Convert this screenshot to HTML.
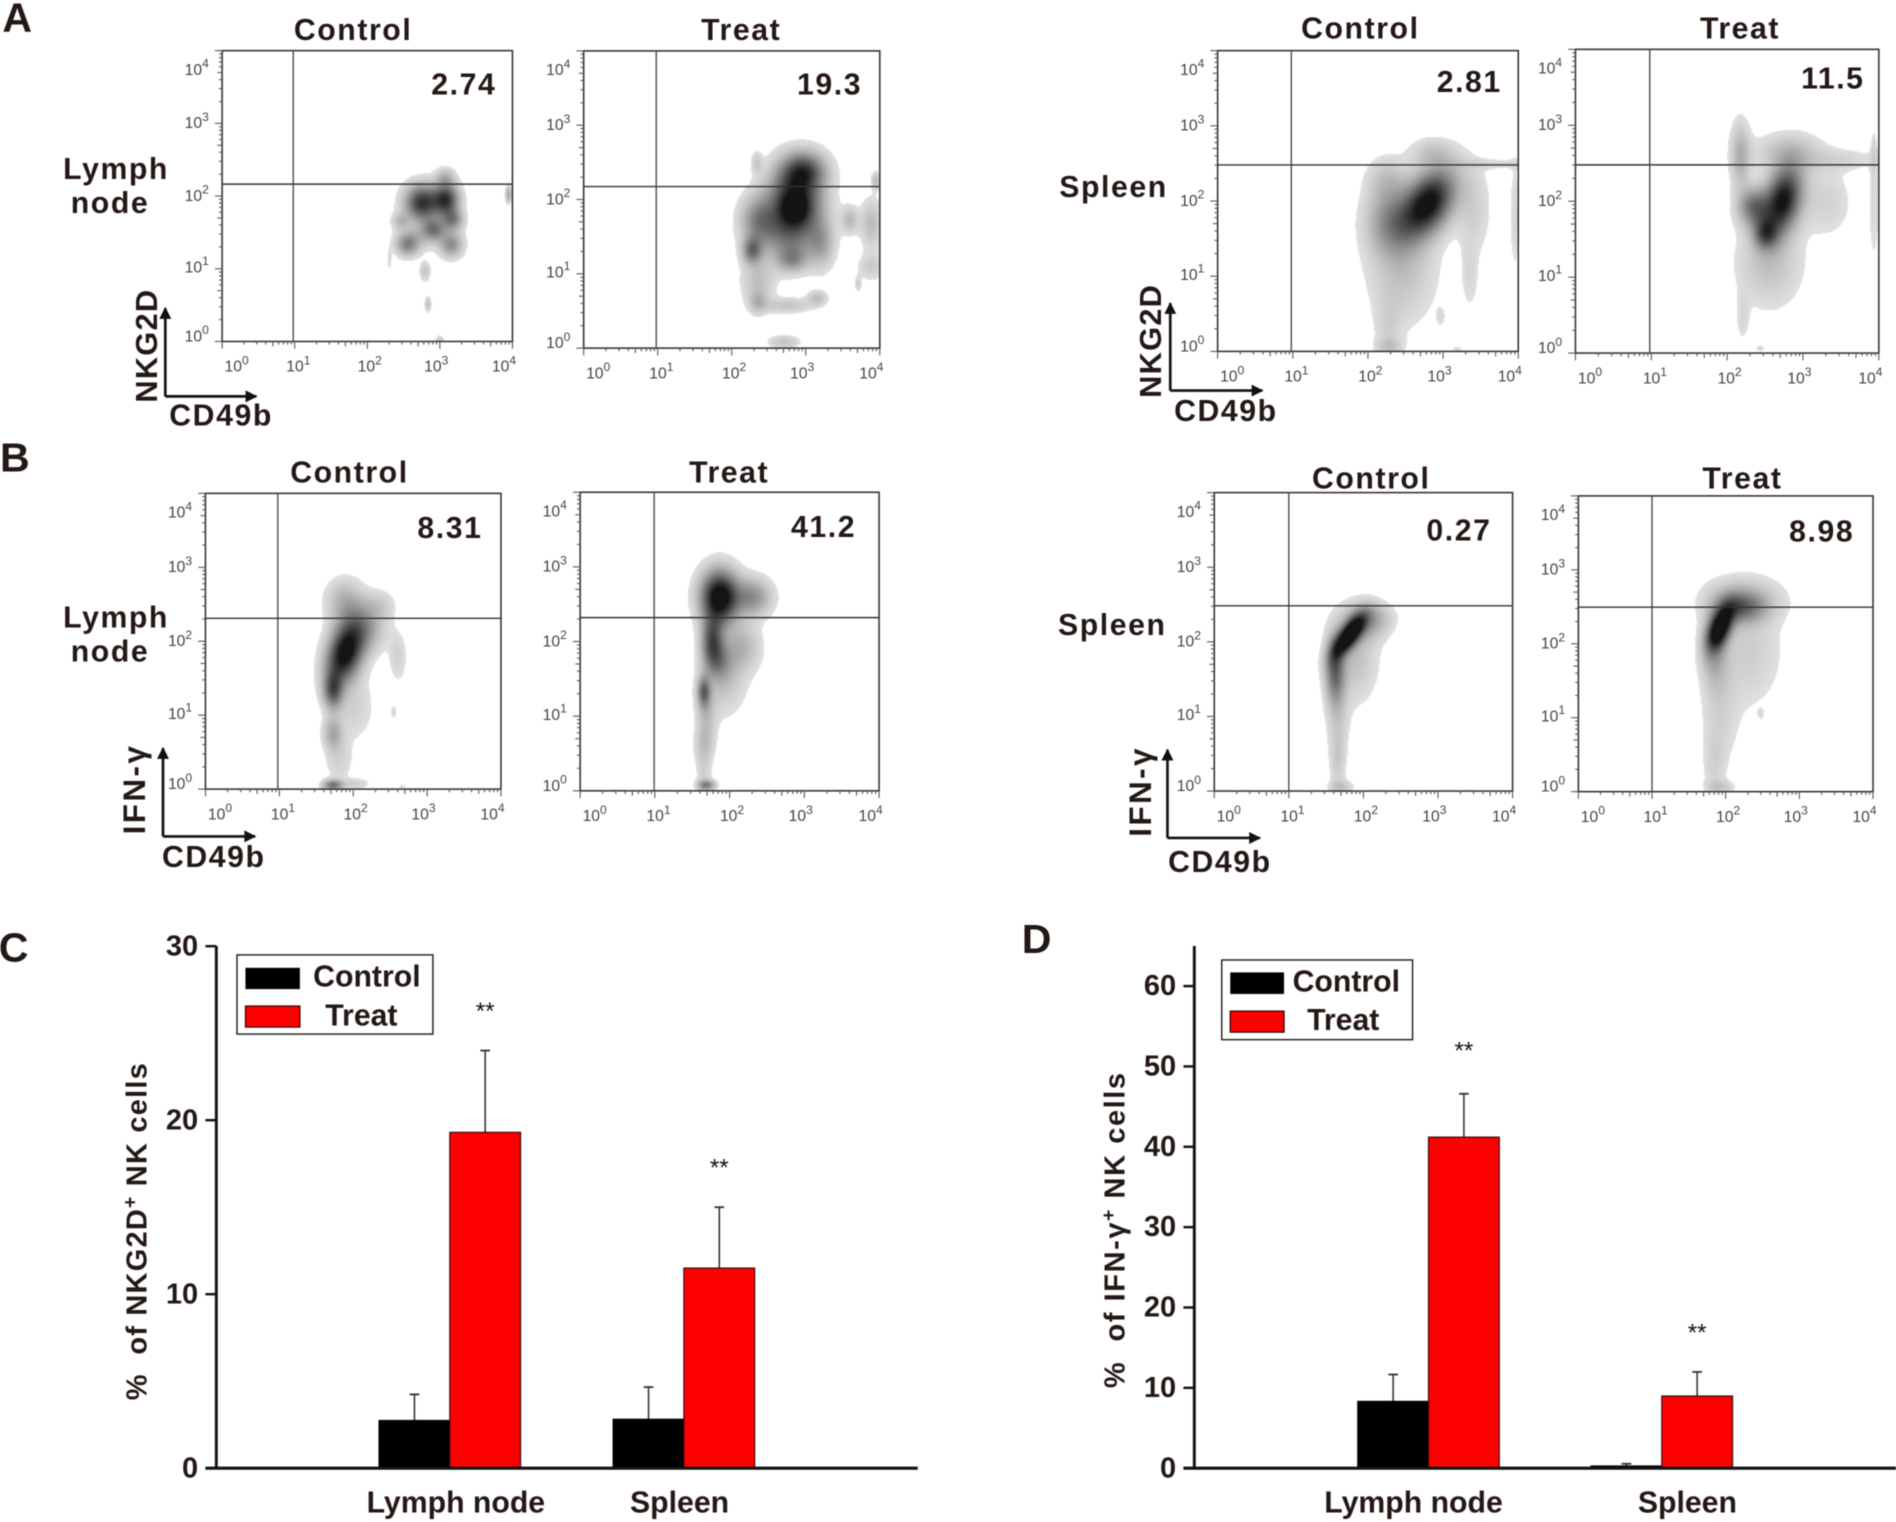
<!DOCTYPE html>
<html lang="en">
<head>
<meta charset="utf-8">
<title>NKG2D and IFN-γ expression in NK cells</title>
<style>
html,body{margin:0;padding:0;background:#fff;width:1896px;height:1522px;overflow:hidden}
#figure{position:relative;width:1896px;height:1522px;filter:blur(0.55px)}
#density-layer{position:absolute;left:0;top:0}
#overlay{position:absolute;left:0;top:0}
text{font-family:"Liberation Sans",sans-serif;fill:#231815}
.b{font-weight:700}
.t25{font-size:25px;font-weight:700;letter-spacing:1.3px}
.letter{font-size:34px;font-weight:700}
.rot{font-size:26px;font-weight:700;letter-spacing:1px}
.ytitle{font-size:24px;font-weight:700;letter-spacing:1px}
.star{font-size:20px;font-weight:400;fill:#111}
</style>
</head>
<body>
<div id="figure">
<canvas id="density-layer" width="1896" height="1522"></canvas>
<svg id="overlay" width="1896" height="1522" viewBox="0 0 1568 1258.7" xmlns="http://www.w3.org/2000/svg">
  <defs>
    <marker id="ah" viewBox="0 0 10 10" refX="9" refY="5" markerWidth="5.5" markerHeight="4.5" orient="auto-start-reverse"><path d="M0 0 L10 5 L0 10 Z" fill="#111"/></marker>
  </defs>

  <text class="letter" x="2" y="26">A</text>
  <text class="letter" x="0" y="390">B</text>
  <text class="letter" x="-1" y="795">C</text>
  <text class="letter" x="845" y="788">D</text>

  <text class="t25" x="96" y="148" text-anchor="middle">Lymph</text>
  <text class="t25" x="91" y="176" text-anchor="middle">node</text>
  <text class="t25" x="876" y="163">Spleen</text>
  <text class="t25" x="96" y="519" text-anchor="middle">Lymph</text>
  <text class="t25" x="91" y="547" text-anchor="middle">node</text>
  <text class="t25" x="875" y="525">Spleen</text>

  <g>
    <line x1="136.7" y1="327.8" x2="136.7" y2="254.8" stroke="#111" stroke-width="2.2" marker-end="url(#ah)"/>
    <line x1="136.7" y1="327.8" x2="212" y2="327.8" stroke="#111" stroke-width="2.2" marker-end="url(#ah)"/>
    <text class="rot" transform="translate(130,333) rotate(-90)" style="font-size:25.5px">NKG2D</text>
    <text class="t25" x="140" y="352">CD49b</text>
  </g>
  <g>
    <line x1="967.8" y1="323" x2="967.8" y2="250.7" stroke="#111" stroke-width="2.2" marker-end="url(#ah)"/>
    <line x1="967.8" y1="323" x2="1044" y2="323" stroke="#111" stroke-width="2.2" marker-end="url(#ah)"/>
    <text class="rot" transform="translate(960,329) rotate(-90)" style="font-size:25.5px">NKG2D</text>
    <text class="t25" x="971" y="348">CD49b</text>
  </g>
  <g>
    <line x1="134.8" y1="691.7" x2="134.8" y2="618.7" stroke="#111" stroke-width="2.2" marker-end="url(#ah)"/>
    <line x1="134.8" y1="691.7" x2="211" y2="691.7" stroke="#111" stroke-width="2.2" marker-end="url(#ah)"/>
    <text class="rot" transform="translate(120,690) rotate(-90)" style="letter-spacing:2px">IFN-γ</text>
    <text class="t25" x="134" y="717">CD49b</text>
  </g>
  <g>
    <line x1="965.5" y1="693" x2="965.5" y2="620" stroke="#111" stroke-width="2.2" marker-end="url(#ah)"/>
    <line x1="965.5" y1="693" x2="1042" y2="693" stroke="#111" stroke-width="2.2" marker-end="url(#ah)"/>
    <text class="rot" transform="translate(952,692) rotate(-90)" style="letter-spacing:2px">IFN-γ</text>
    <text class="t25" x="966" y="721">CD49b</text>
  </g>

  <g id="flow-panels"></g>
  <g id="bar-c"></g>
  <g id="bar-d"></g>

  <text class="ytitle" xml:space="preserve" transform="translate(121,1158) rotate(-90)">%  of NKG2D<tspan dy="-8" font-size="16">+</tspan><tspan dy="8"> NK cells</tspan></text>
  <text class="ytitle" xml:space="preserve" transform="translate(930,1148) rotate(-90)" style="letter-spacing:1.3px">%  of IFN-γ<tspan dy="-8" font-size="16">+</tspan><tspan dy="8"> NK cells</tspan></text>

  <g>
    <rect x="196" y="789.7" width="162" height="65.5" fill="#fff" stroke="#222" stroke-width="1.2"/>
    <rect x="203" y="800.4" width="45" height="17.6" fill="#000"/>
    <text class="t25" x="259" y="816" style="letter-spacing:0">Control</text>
    <rect x="203" y="832" width="45" height="17.4" fill="#f00" stroke="#300" stroke-width="1"/>
    <text class="t25" x="269" y="848" style="letter-spacing:0">Treat</text>
  </g>
  <g>
    <rect x="1010.4" y="793.9" width="157.8" height="65.9" fill="#fff" stroke="#222" stroke-width="1.2"/>
    <rect x="1017.4" y="804.2" width="44.5" height="17.8" fill="#000"/>
    <text class="t25" x="1069" y="820" style="letter-spacing:0">Control</text>
    <rect x="1017.4" y="836.2" width="44.5" height="17.4" fill="#f00" stroke="#300" stroke-width="1"/>
    <text class="t25" x="1081" y="852" style="letter-spacing:0">Treat</text>
  </g>
</svg>
</div>

<script>
// ---------- Chart data ----------
const barCategories = ['Lymph node', 'Spleen'];
const nkg2dControl = [2.74, 2.81];
const nkg2dTreat = [19.3, 11.5];
const nkg2dControlErr = [1.5, 1.85];
const nkg2dTreatErr = [4.7, 3.5];
const nkg2dTicks = [0, 10, 20, 30];
const ifnControl = [8.31, 0.27];
const ifnTreat = [41.2, 8.98];
const ifnControlErr = [3.35, 0.28];
const ifnTreatErr = [5.4, 3.0];
const ifnTicks = [0, 10, 20, 30, 40, 50, 60];

const flowTitles = ['Control', 'Treat', 'Control', 'Treat', 'Control', 'Treat', 'Control', 'Treat'];
const flowPercents = ['2.74', '19.3', '2.81', '11.5', '8.31', '41.2', '0.27', '8.98'];
const decadeExponents = [0, 1, 2, 3, 4];

// Density components per plot: [log10 x, log10 y, sigma x, sigma y, correlation, weight]
const densityLymphNkg2dControl = [
  [2.75,1.91,.16,.17,0,.85],[3.08,1.96,.12,.15,0,.8],[3.17,1.68,.1,.1,0,.45],[2.91,1.55,.11,.1,0,.45],
  [2.55,1.34,.11,.11,0,.45],[3.15,1.34,.11,.12,0,.42],[2.45,1.66,.08,.08,0,.2],[3.07,2.26,.09,.09,0,.22],
  [2.79,.97,.05,.09,0,.18],[2.83,.52,.03,.07,0,.2],[3.94,2.03,.03,.08,0,.3],[2.99,.03,.04,.04,0,.15],
  [2.3,1.13,.02,.1,0,.1],[2.75,1.45,.2,.12,0,.15]
];
const densityLymphNkg2dTreat = [
  [2.85,2.0,.24,.3,0,.95],[2.85,1.88,.12,.12,0,.3],[2.97,2.4,.2,.17,0,.6],[2.35,1.73,.16,.22,0,.4],
  [2.27,1.32,.09,.12,0,.5],[2.81,1.2,.14,.12,0,.35],[2.75,1.55,.28,.25,0,.4],[3.2,1.41,.12,.22,0,.28],
  [2.35,.9,.15,.22,0,.2],[2.35,.62,.08,.1,0,.2],[3.15,.68,.09,.07,0,.2],[2.75,.58,.22,.07,0,.18],
  [3.59,1.73,.08,.12,0,.22],[3.88,1.68,.1,.22,0,.22],[3.88,1.1,.12,.12,0,.15],[3.7,.87,.03,.07,0,.13],
  [3.94,2.26,.04,.08,0,.22],[2.7,.09,.14,.06,0,.18],[2.33,2.5,.05,.1,0,.15]
];
const densitySpleenNkg2dControl = [
  [2.8,1.98,.24,.3,.4,1.05],[2.3,1.75,.22,.3,0,.38],[2.45,1.15,.3,.5,0,.2],[2.85,2.65,.2,.13,0,.16],
  [2.25,2.3,.18,.2,0,.16],[2.27,.33,.12,.28,0,.1],[2.27,.07,.12,.08,0,.14],[2.96,.47,.04,.08,0,.09],
  [3.35,1.0,.08,.3,0,.09],[3.4,1.9,.15,.4,0,.13],[3.95,1.8,.05,.5,0,.1],[3.7,2.5,.4,.05,0,.09],[3.18,.04,.05,.03,0,.08]
];
const densitySpleenNkg2dTreat = [
  [2.73,2.02,.17,.3,.3,1.0],[2.35,1.93,.14,.17,0,.55],[2.5,1.58,.11,.14,0,.55],[2.17,2.6,.09,.3,0,.28],
  [2.55,1.2,.28,.38,0,.2],[2.8,2.65,.3,.17,0,.2],[2.2,.48,.06,.22,0,.09],[3.3,2.0,.22,.3,0,.12],
  [3.5,2.55,.35,.1,0,.1],[3.93,1.9,.05,.5,0,.09],[3.93,2.65,.03,.2,0,.09],[2.43,.07,.04,.03,0,.1]
];
const densityLymphIfnControl = [
  [1.88,1.84,.17,.27,.3,1.05],[1.72,1.34,.09,.17,0,.6],[2.11,2.2,.2,.22,0,.38],[1.88,2.55,.17,.2,0,.25],
  [2.35,2.5,.14,.13,0,.12],[1.72,.76,.09,.15,0,.3],[1.8,.4,.12,.2,0,.12],[1.72,.06,.09,.05,0,.55],
  [2.03,.08,.12,.05,0,.13],[2.0,1.12,.18,.3,0,.12],[2.66,.04,.05,.03,0,.07],[2.54,1.05,.03,.06,0,.1],[2.6,1.79,.08,.22,0,.12]
];
const densityLymphIfnTreat = [
  [1.86,2.6,.17,.24,0,1.15],[2.3,2.6,.17,.17,0,.42],[1.76,2.02,.1,.22,0,.65],[2.15,1.93,.17,.22,0,.25],
  [1.84,1.75,.12,.17,0,.3],[1.65,1.33,.06,.14,0,.55],[1.9,1.49,.2,.3,0,.2],[1.68,.95,.09,.25,0,.2],
  [1.65,.6,.09,.15,0,.15],[1.68,.08,.08,.05,0,.5],[1.65,.28,.07,.15,0,.12]
];
const densitySpleenIfnControl = [
  [1.8,2.09,.14,.18,.7,1.2],[1.61,1.64,.09,.3,0,.55],[2.03,2.27,.2,.16,0,.3],[1.88,1.82,.2,.4,0,.2],
  [1.65,1.0,.1,.4,0,.15],[1.65,.38,.07,.25,0,.12],[1.69,.06,.11,.06,0,.17],[2.1,2.36,.2,.12,0,.1]
];
const densitySpleenIfnTreat = [
  [1.92,2.23,.12,.2,.5,1.1],[2.2,2.5,.22,.14,0,.45],[1.84,1.92,.12,.35,0,.3],[2.23,2.6,.35,.2,0,.2],
  [2.3,1.92,.3,.5,0,.14],[1.92,1.02,.17,.45,0,.11],[1.84,.34,.1,.3,0,.1],[1.92,.07,.13,.06,0,.14],[2.47,1.06,.03,.05,0,.07]
];
const flowDensities = [
  densityLymphNkg2dControl, densityLymphNkg2dTreat, densitySpleenNkg2dControl, densitySpleenNkg2dTreat,
  densityLymphIfnControl, densityLymphIfnTreat, densitySpleenIfnControl, densitySpleenIfnTreat
];

// ---------- Layout (not data) ----------
const panelBoxes = [
  {l:183.7,r:423.8,t:41.9,b:282.4,gx:.98,gy:2.164,tx:292,ty:33,vx:410.5,vy:78},
  {l:482.7,r:727.6,t:42.1,b:287.9,gx:.98,gy:2.174,tx:613,ty:33,vx:713,vy:78},
  {l:1007,r:1255.6,t:41.9,b:290.6,gx:.98,gy:2.48,tx:1125,ty:32,vx:1242,vy:76},
  {l:1302.9,r:1553.8,t:40.8,b:292,gx:.98,gy:2.478,tx:1439,ty:32,vx:1542,vy:73},
  {l:169.9,r:414.3,t:408,b:652.6,gx:.98,gy:2.31,tx:289,ty:399,vx:399,vy:445},
  {l:479.8,r:727,t:407.1,b:654,gx:.99,gy:2.32,tx:603,ty:399,vx:708,vy:444},
  {l:1004.2,r:1250.9,t:407.4,b:654.2,gx:1,gy:2.483,tx:1134,ty:404,vx:1233.5,vy:447},
  {l:1305.3,r:1549,t:410.1,b:654.7,gx:1,gy:2.495,tx:1441,ty:404,vx:1533.5,vy:448}
];
const SVGNS = 'http://www.w3.org/2000/svg';
const PX = 1896 / 1568;

function svgEl(tag, parent) {
  const el = document.createElementNS(SVGNS, tag);
  parent.appendChild(el);
  return el;
}
function setAll(el, props) {
  for (const k in props) el.setAttribute(k, props[k]);
  return el;
}

// ---------- Density plots ----------
function paintDensity(ctx, box, comps) {
  const x0 = Math.floor(box.l * PX), x1 = Math.ceil(box.r * PX);
  const y0 = Math.floor(box.t * PX), y1 = Math.ceil(box.b * PX);
  const w = x1 - x0, h = y1 - y0;
  const img = ctx.createImageData(w, h);
  for (let j = 0; j < h; j++) {
    const vy = (y0 + j) / PX;
    const dy = (box.b - vy) / (box.b - box.t) * 4;
    for (let i = 0; i < w; i++) {
      const vx = (x0 + i) / PX;
      const dx = (vx - box.l) / (box.r - box.l) * 4;
      let d = 0;
      for (const c of comps) {
        const a = (dx - c[0]) / c[2], b = (dy - c[1]) / c[3], r = c[4];
        d += c[5] * Math.exp(-(a * a - 2 * r * a * b + b * b) / (2 * (1 - r * r)));
      }
      d = Math.min(1, d);
      const g = d < 0.05 ? 255 : 236 - 216 * d;
      const p = (j * w + i) * 4;
      img.data[p] = img.data[p + 1] = img.data[p + 2] = g;
      img.data[p + 3] = 255;
    }
  }
  ctx.putImageData(img, x0, y0);
}

function drawFlowPanel(root, box, idx) {
  const g = svgEl('g', root);
  
  
  const sx = v => box.l + (box.r - box.l) * v / 4;
  const sy = v => box.b - (box.b - box.t) * v / 4;

  const frame = svgEl('rect', g);
  setAll(frame, {x: box.l, y: box.t, width: box.r - box.l, height: box.b - box.t, fill: 'none', stroke: '#333', 'stroke-width': 1.3});
  
  

  const vGate = svgEl('line', g);
  setAll(vGate, {x1: sx(box.gx), x2: sx(box.gx), y1: box.t, y2: box.b, stroke: '#444', 'stroke-width': 1.1});
  
  

  const hGate = svgEl('line', g);
  setAll(hGate, {x1: box.l, x2: box.r, y1: sy(box.gy), y2: sy(box.gy), stroke: '#333', 'stroke-width': 1.2});
  
  

  const xLabelShift = [12, 3, 2, -3, -7];
  const yLabelShift = [-4, -1, 0, 0, 16];
  decadeExponents.forEach((e, k) => {
    for (let m = 1; m <= (k === 4 ? 1 : 9); m++) {
      const v = e + Math.log10(m);
      const len = m === 1 ? 6 : (m === 5 ? 4 : 2.6);
      const xt = svgEl('line', g);
      setAll(xt, {x1: sx(v), x2: sx(v), y1: box.b, y2: box.b + len, stroke: '#555', 'stroke-width': 0.9});
      
      
      const yt = svgEl('line', g);
      setAll(yt, {x1: box.l - len, x2: box.l, y1: sy(v), y2: sy(v), stroke: '#555', 'stroke-width': 0.9});
      
      
    }
    const xl = svgEl('text', g);
    setAll(xl, {x: sx(e) + xLabelShift[k], y: box.b + 25, 'text-anchor': 'middle', 'font-size': 13, style: 'fill:#444'});
    
    
    xl.innerHTML = '10<tspan dy="-6" font-size="10">' + e + '</tspan>';
    const yl = svgEl('text', g);
    setAll(yl, {x: box.l - 21, y: sy(e) + yLabelShift[k] + 4, 'text-anchor': 'middle', 'font-size': 13, style: 'fill:#444'});
    
    
    yl.innerHTML = '10<tspan dy="-6" font-size="10">' + e + '</tspan>';
  });

  const title = svgEl('text', g);
  setAll(title, {x: box.tx, y: box.ty, 'text-anchor': 'middle', class: 't25'});
  
  
  title.textContent = flowTitles[idx];

  const pct = svgEl('text', g);
  setAll(pct, {x: box.vx, y: box.vy, 'text-anchor': 'end', class: 't25'});
  
  
  pct.textContent = flowPercents[idx];
}

const ctx = document.getElementById('density-layer').getContext('2d');
ctx.fillStyle = '#fff';
ctx.fillRect(0, 0, 1896, 1522);
const flowRoot = document.getElementById('flow-panels');
panelBoxes.forEach((box, i) => {
  paintDensity(ctx, box, flowDensities[i]);
  drawFlowPanel(flowRoot, box, i);
});

// ---------- Bar charts ----------
function drawBars(root, cfg) {
  const yScale = v => cfg.zeroY - v * cfg.unit;
  const xGroup = i => cfg.firstCenter + i * cfg.step;

  const yAxis = svgEl('line', root);
  setAll(yAxis, {x1: cfg.axisX, x2: cfg.axisX, y1: cfg.axisTop, y2: cfg.zeroY, stroke: '#111', 'stroke-width': 2.4});
  
  

  cfg.ticks.forEach(t => {
    const tick = svgEl('line', root);
    setAll(tick, {x1: cfg.axisX - 9, x2: cfg.axisX, y1: yScale(t), y2: yScale(t), stroke: '#111', 'stroke-width': 2});
    
    
    const lab = svgEl('text', root);
    setAll(lab, {x: cfg.axisX - 15, y: yScale(t) + 7.5, 'text-anchor': 'end', 'font-size': 24, 'font-weight': 700});
    
    
    lab.textContent = t;
  });

  cfg.categories.forEach((c, i) => {
    const cx = xGroup(i);
    const series = [
      {name: 'control', v: cfg.control[i], e: cfg.controlErr[i], x: cx - cfg.barW, fill: '#000', stroke: '#000'},
      {name: 'treat', v: cfg.treat[i], e: cfg.treatErr[i], x: cx, fill: '#f00', stroke: '#3a0a0a'}
    ];
    series.forEach(s => {
      const mid = s.x + cfg.barW / 2;
      const errLine = svgEl('line', root);
      setAll(errLine, {x1: mid, x2: mid, y1: yScale(s.v), y2: yScale(s.v + s.e), stroke: '#333', 'stroke-width': 1.3});
      
      
      const cap = svgEl('line', root);
      setAll(cap, {x1: mid - 4, x2: mid + 4, y1: yScale(s.v + s.e), y2: yScale(s.v + s.e), stroke: '#333', 'stroke-width': 1.5});
      
      
      const bar = svgEl('rect', root);
      setAll(bar, {x: s.x, y: yScale(s.v), width: cfg.barW, height: cfg.zeroY - yScale(s.v), fill: s.fill, stroke: s.stroke, 'stroke-width': 1});
      
      
    });
    const star = svgEl('text', root);
    setAll(star, {x: cx + cfg.barW / 2, y: yScale(cfg.treat[i] + cfg.treatErr[i]) + cfg.starGap[i], 'text-anchor': 'middle', class: 'star'});
    
    
    star.textContent = '**';
    const lab = svgEl('text', root);
    setAll(lab, {x: cfg.labelX[i], y: 1251, 'text-anchor': 'middle', 'font-size': 25, 'font-weight': 700});
    
    
    lab.textContent = c;
  });

  const base = svgEl('line', root);
  setAll(base, {x1: cfg.axisX - 9, x2: cfg.baseEnd, y1: cfg.zeroY, y2: cfg.zeroY, stroke: '#111', 'stroke-width': 2.6});
  
  
}

drawBars(document.getElementById('bar-c'), {
  categories: barCategories, control: nkg2dControl, treat: nkg2dTreat,
  controlErr: nkg2dControlErr, treatErr: nkg2dTreatErr, ticks: nkg2dTicks,
  zeroY: 1214.2, unit: 14.39, axisX: 178.9, axisTop: 782.3, baseEnd: 759,
  firstCenter: 372, step: 193.6, barW: 58.5, starGap: [-26, -26], labelX: [377, 562]
});
drawBars(document.getElementById('bar-d'), {
  categories: barCategories, control: ifnControl, treat: ifnTreat,
  controlErr: ifnControlErr, treatErr: ifnTreatErr, ticks: ifnTicks,
  zeroY: 1214.2, unit: 6.645, axisX: 987.7, axisTop: 782.3, baseEnd: 1568,
  firstCenter: 1181.4, step: 192.9, barW: 58.5, starGap: [-29, -26], labelX: [1169, 1395.5]
});
</script>
</body>
</html>
